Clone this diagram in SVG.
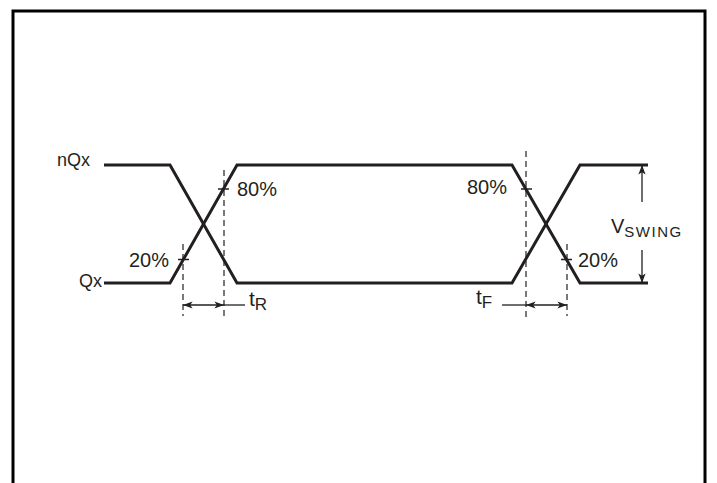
<svg xmlns="http://www.w3.org/2000/svg" width="717" height="483" viewBox="0 0 717 483">
<defs>
<style>
.frame{fill:none;stroke:#000;stroke-width:3;stroke-linecap:square}
.wave{fill:none;stroke:#231f20;stroke-width:3;stroke-linejoin:miter}
.dash{fill:none;stroke:#231f20;stroke-width:1.2;stroke-dasharray:6,4}
.thin{fill:none;stroke:#231f20;stroke-width:1.3}
.lbl{font-family:"Liberation Sans",Arial,sans-serif;fill:#231f20;font-size:18px}
.pct{font-size:20px}
</style>
<marker id="ah" viewBox="0 0 12 10" refX="12" refY="5" markerWidth="12" markerHeight="8" markerUnits="userSpaceOnUse" orient="auto-start-reverse">
<path d="M0,0.5 L12,5 L0,9.5 L3,5 Z" fill="#231f20"/>
</marker>
</defs>
<rect width="717" height="483" fill="#fff"/>
<path class="frame" d="M13,483 V11 H705 V483"/>
<g id="nQx">
<path class="wave" d="M104,165 H170 L237,283 H512 L580,165 H648"/>
<text class="lbl" x="57" y="166">nQx</text>
</g>
<g id="Qx">
<path class="wave" d="M104,283 H170 L237,165 H512 L580,283 H648"/>
<text class="lbl" x="79" y="287">Qx</text>
</g>
<g id="connectors">
<path class="dash" d="M224,170 V318"/>
<path class="dash" d="M183,244 V316"/>
<path class="dash" d="M526,151 V320"/>
<path class="dash" d="M567,244 V316"/>
<path class="thin" d="M218,189 H229 M178,259.5 H189 M521,189 H532 M561,259.5 H572"/>
<path class="thin" d="M183,305 H224" marker-start="url(#ah)" marker-end="url(#ah)"/>
<path class="thin" d="M224,305 H245"/>
<path class="thin" d="M526,305 H567" marker-start="url(#ah)" marker-end="url(#ah)"/>
<path class="thin" d="M502,305 H526"/>
<path class="thin" d="M642,202 V165" marker-end="url(#ah)"/>
<path class="thin" d="M642,250 V283" marker-end="url(#ah)"/>
</g>
<g id="labels">
<text class="lbl pct" x="129" y="267">20%</text>
<text class="lbl pct" x="237" y="196">80%</text>
<text class="lbl pct" x="467" y="194">80%</text>
<text class="lbl pct" x="578" y="267">20%</text>
<text class="lbl" x="249" y="306" style="font-size:21px">t<tspan dy="4" style="font-size:17px">R</tspan></text>
<text class="lbl" x="476" y="304" style="font-size:21px">t<tspan dy="4" style="font-size:17px">F</tspan></text>
<text class="lbl" x="611" y="233" style="font-size:20px">V<tspan dy="4" style="font-size:15px;letter-spacing:1.5px">SWING</tspan></text>
</g>
</svg>
